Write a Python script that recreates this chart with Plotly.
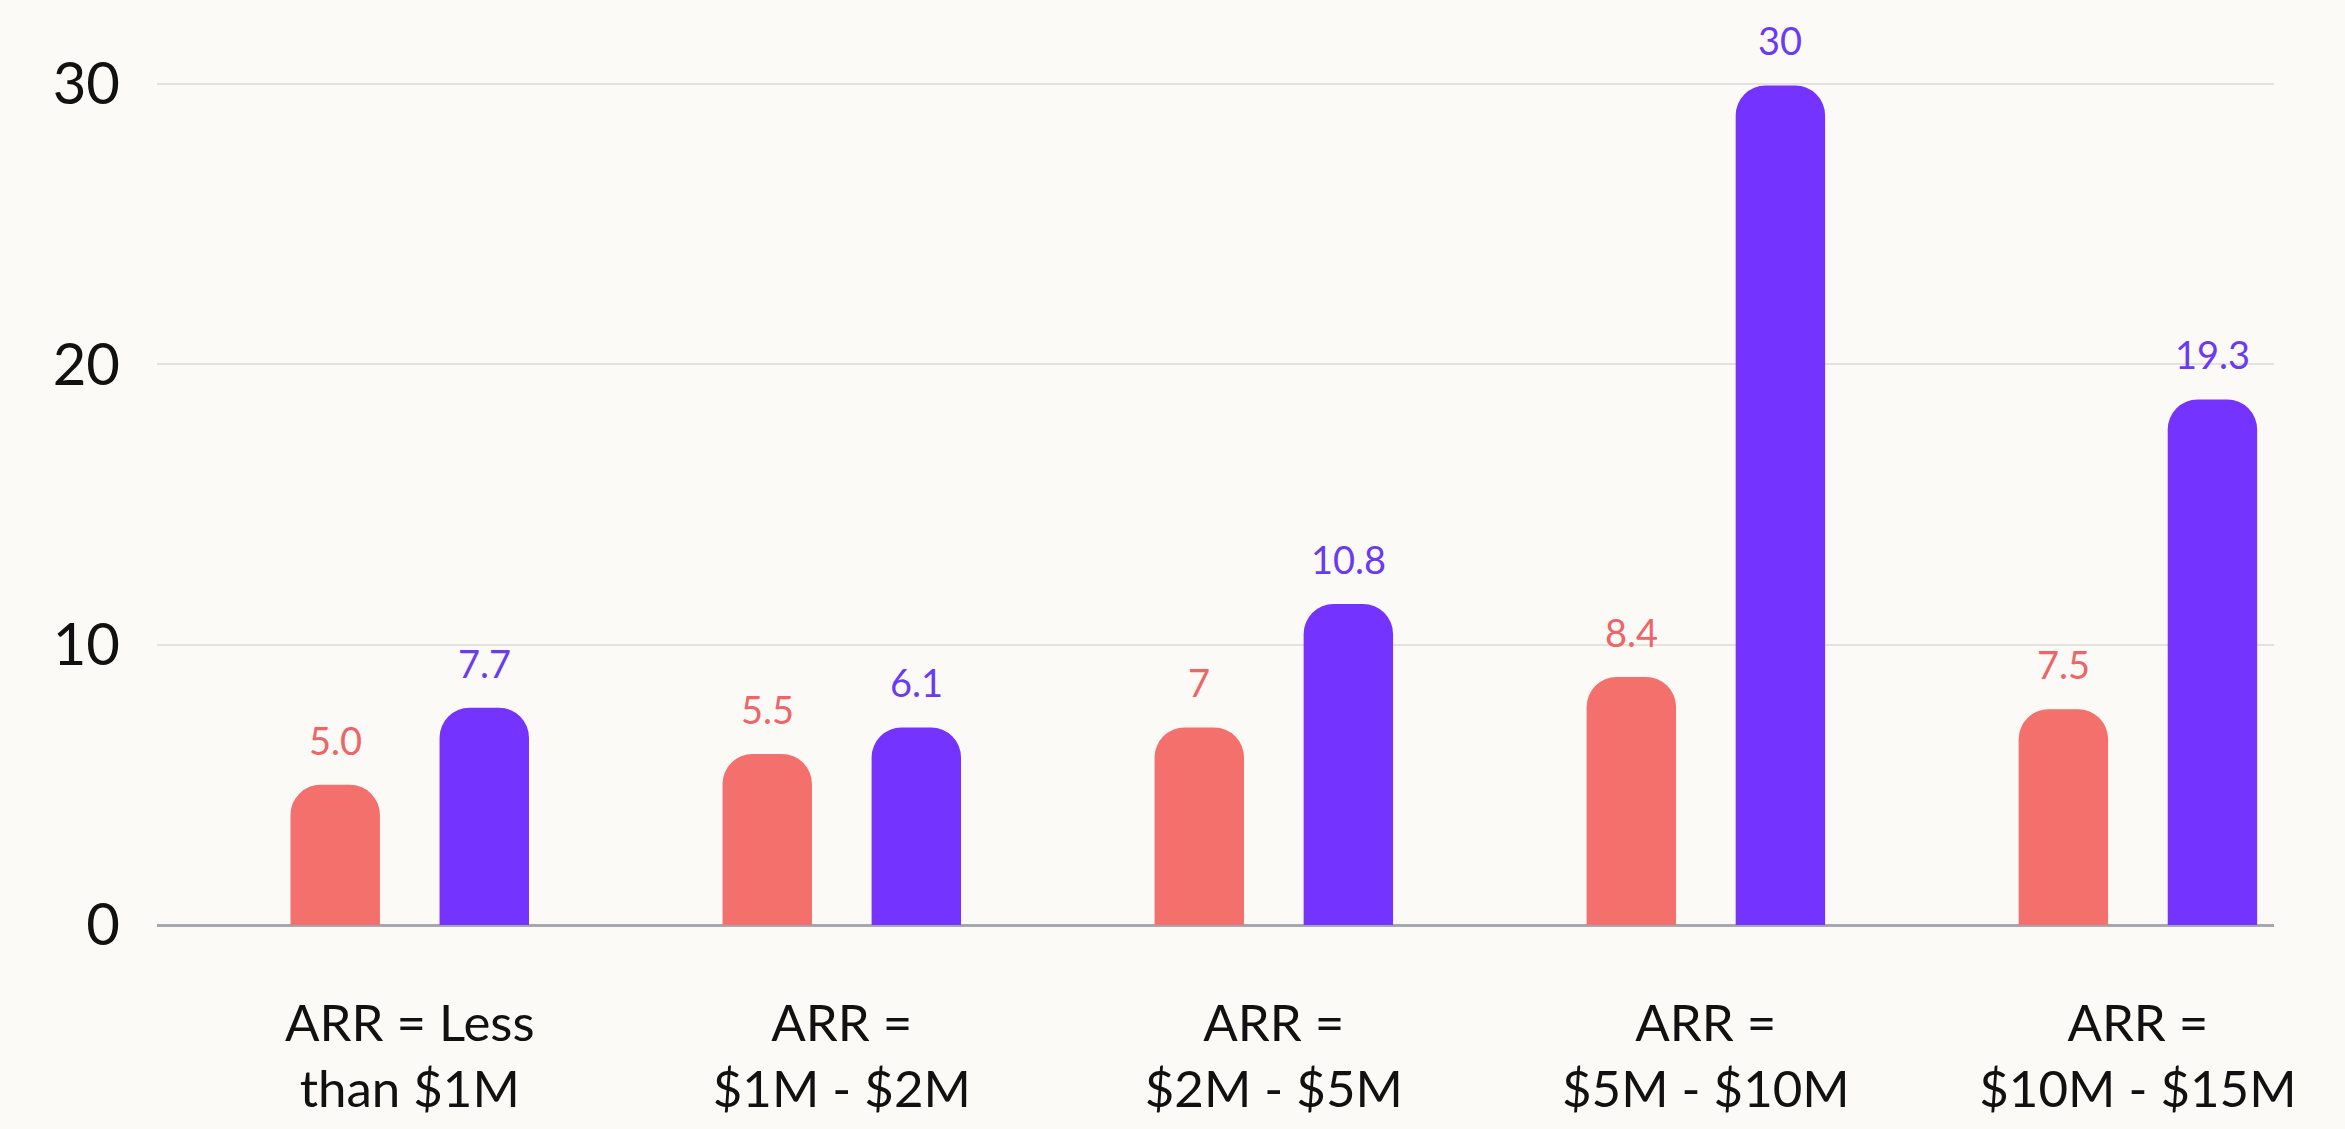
import plotly.graph_objects as go

# ---- data ----
categories = ["lt1M", "1M-2M", "2M-5M", "5M-10M", "10M-15M"]
tick_labels = [
    "ARR = Less<br>than $1M",
    "ARR =<br>$1M - $2M",
    "ARR =<br>$2M - $5M",
    "ARR =<br>$5M - $10M",
    "ARR =<br>$10M - $15M",
]
coral_values = [5.0, 6.1, 7.05, 8.85, 7.7]
purple_values = [7.75, 7.05, 11.45, 29.95, 18.75]
coral_labels = ["5.0", "5.5", "7", "8.4", "7.5"]
purple_labels = ["7.7", "6.1", "10.8", "30", "19.3"]
y_ticks = [0, 10, 20, 30]

# ---- style ----
BG = "#FCFAF7"
CORAL = "#F4706D"
PURPLE = "#7433FF"
CORAL_TXT = "#EF6467"
PURPLE_TXT = "#6A3BF2"
FONT = "Lato"
BARGAP = 0.31
BARGROUPGAP = 0.40

fig = go.Figure()
fig.add_trace(go.Bar(x=categories, y=coral_values, marker_color=CORAL,
                     marker_line_width=0, showlegend=False))
fig.add_trace(go.Bar(x=categories, y=purple_values, marker_color=PURPLE,
                     marker_line_width=0, showlegend=False))

# value labels above bars
slot = (1 - BARGAP) / 2
annotations = []
for i in range(len(categories)):
    for vals, labs, col, sign in ((coral_values, coral_labels, CORAL_TXT, -1),
                                  (purple_values, purple_labels, PURPLE_TXT, 1)):
        annotations.append(dict(
            x=i + sign * slot / 2, y=vals[i], xref="x", yref="y",
            text=labs[i], showarrow=False, yanchor="bottom", xanchor="center",
            yshift=20, font=dict(family=FONT, size=38, color=col)))

fig.update_layout(
    width=2345, height=1129, autosize=False,
    margin=dict(l=157, r=71, t=42, b=204, pad=0),
    paper_bgcolor=BG, plot_bgcolor=BG,
    barmode="group", bargap=BARGAP, bargroupgap=BARGROUPGAP,
    barcornerradius=30,
    annotations=annotations,
    font=dict(family=FONT, color="#111111"),
    xaxis=dict(
        type="category", range=[-0.585, 4.315], automargin=False,
        tickvals=categories, ticktext=tick_labels,
        tickfont=dict(family=FONT, size=51, color="#111111"),
        showgrid=False, showline=False, zeroline=False, ticks="",
        ticklabelstandoff=64,
    ),
    yaxis=dict(
        range=[0, 31.5], tickvals=y_ticks, automargin=False,
        tickfont=dict(family=FONT, size=58, color="#111111"),
        showgrid=True, gridcolor="#E4E2DF", gridwidth=2,
        zeroline=True, zerolinecolor="#A6A7AF", zerolinewidth=3,
        showline=False, ticks="", ticklabelstandoff=36,
    ),
)

fig.write_html("out.html")
